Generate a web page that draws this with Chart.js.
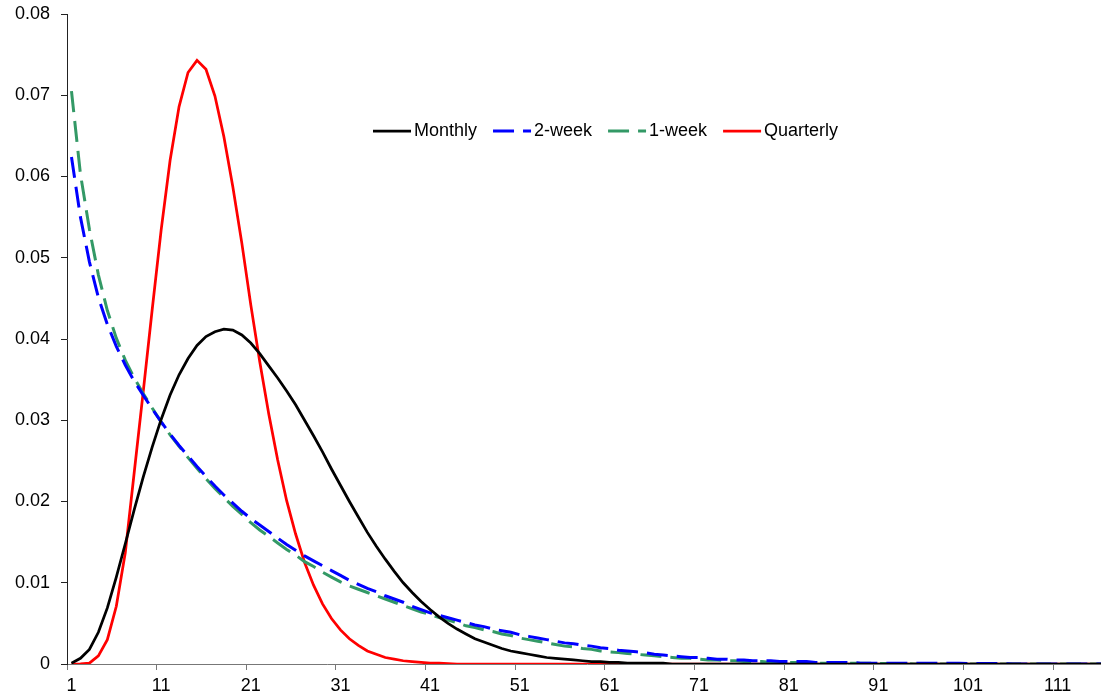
<!DOCTYPE html>
<html>
<head>
<meta charset="utf-8">
<title>Distribution by period</title>
<script src="https://cdn.jsdelivr.net/npm/chart.js@4/dist/chart.umd.min.js"></script>
<style>
	html, body { margin: 0; padding: 0; background: #fff; overflow: hidden; }
	canvas { display: block; }
</style>
</head>
<body>
<!-- the original picture cuts the plot off a few pixels past its right edge -->
<canvas id="distChart" width="1107" height="698"></canvas>
<script>
'use strict';

// Periods 1..116 along the x axis
const periods = Array.from({ length: 116 }, (_, i) => String(i + 1));

const yTicks = [0, 0.01, 0.02, 0.03, 0.04, 0.05, 0.06, 0.07, 0.08];

const monthly = [
	0.0001, 0.0007, 0.0018, 0.0039, 0.0069, 0.0107, 0.0148, 0.0190, 0.0230, 0.0267,
	0.0301, 0.0331, 0.0356, 0.0376, 0.0392, 0.0403, 0.0409, 0.0412, 0.0411, 0.0405,
	0.0395, 0.0382, 0.0367, 0.0352, 0.0336, 0.0319, 0.0300, 0.0281, 0.0261, 0.0240,
	0.0220, 0.0200, 0.0181, 0.0162, 0.0145, 0.0129, 0.0114, 0.0100, 0.0088, 0.0077,
	0.0067, 0.0058, 0.0050, 0.0043, 0.0037, 0.0031, 0.0027, 0.0023, 0.0019, 0.0016,
	0.0014, 0.0012, 0.0010, 0.0008, 0.0007, 0.0006, 0.0005, 0.0004, 0.0003, 0.0003,
	0.0002, 0.0002, 0.0001, 0.0001, 0.0001, 0.0001, 0.0001, 0, 0, 0,
	0, 0, 0, 0, 0, 0, 0, 0, 0, 0,
	0, 0, 0, 0, 0, 0, 0, 0, 0, 0,
	0, 0, 0, 0, 0, 0, 0, 0, 0, 0,
	0, 0, 0, 0, 0, 0, 0, 0, 0, 0,
	0, 0, 0, 0, 0, 0
];

const twoWeek = [
	0.0624, 0.0550, 0.0495, 0.0451, 0.0418, 0.0391, 0.0368, 0.0348, 0.0331, 0.0314,
	0.0298, 0.0283, 0.0269, 0.0256, 0.0243, 0.0231, 0.0219, 0.0208, 0.0198, 0.0188,
	0.0179, 0.0171, 0.0163, 0.0155, 0.0147, 0.0140, 0.0133, 0.0127, 0.0121, 0.0115,
	0.0109, 0.0103, 0.0098, 0.0093, 0.0089, 0.0084, 0.0080, 0.0076, 0.0071, 0.0067,
	0.0063, 0.0060, 0.0057, 0.0054, 0.0051, 0.0048, 0.0046, 0.0043, 0.0041, 0.0039,
	0.0036, 0.0034, 0.0032, 0.0030, 0.0028, 0.0026, 0.0025, 0.0023, 0.0022, 0.0020,
	0.0019, 0.0017, 0.0016, 0.0015, 0.0014, 0.0012, 0.0011, 0.0010, 0.0009, 0.0008,
	0.0008, 0.0007, 0.0006, 0.0006, 0.0005, 0.0005, 0.0004, 0.0004, 0.0004, 0.0003,
	0.0003, 0.0003, 0.0003, 0.0002, 0.0002, 0.0002, 0.0002, 0.0002, 0.0001, 0.0001,
	0.0001, 0.0001, 0.0001, 0.0001, 0.0001, 0.0001, 0.0001, 0.0001, 0.0001, 0.0001,
	0.00005, 0.00005, 0.00005, 0.00005, 0.00005, 0, 0, 0, 0, 0,
	0, 0, 0, 0, 0, 0
];

const oneWeek = [
	0.0705, 0.0603, 0.0535, 0.0479, 0.0435, 0.0401, 0.0374, 0.0352, 0.0333, 0.0315,
	0.0298, 0.0282, 0.0268, 0.0254, 0.0241, 0.0228, 0.0216, 0.0205, 0.0194, 0.0184,
	0.0174, 0.0165, 0.0157, 0.0149, 0.0141, 0.0134, 0.0126, 0.0120, 0.0113, 0.0107,
	0.0101, 0.0096, 0.0092, 0.0088, 0.0084, 0.0080, 0.0076, 0.0072, 0.0068, 0.0064,
	0.0061, 0.0057, 0.0054, 0.0051, 0.0047, 0.0045, 0.0042, 0.0040, 0.0037, 0.0035,
	0.0032, 0.0030, 0.0028, 0.0026, 0.0024, 0.0022, 0.0021, 0.0019, 0.0018, 0.0016,
	0.0015, 0.0014, 0.0013, 0.0012, 0.0011, 0.0010, 0.0009, 0.0008, 0.0007, 0.0007,
	0.0006, 0.0005, 0.0005, 0.0004, 0.0004, 0.0003, 0.0003, 0.0003, 0.0002, 0.0002,
	0.0002, 0.0002, 0.0001, 0.0001, 0.0001, 0.0001, 0.0001, 0.0001, 0.0001, 0.0001,
	0.00005, 0.00005, 0.00005, 0.00005, 0, 0, 0, 0, 0, 0,
	0, 0, 0, 0, 0, 0, 0, 0, 0, 0,
	0, 0, 0, 0, 0, 0
];

const quarterly = [
	0, 0.00003, 0.0001, 0.0010, 0.0030, 0.0071, 0.0137, 0.0236, 0.0335, 0.0436,
	0.0534, 0.0620, 0.0686, 0.0728, 0.0743, 0.0732, 0.0699, 0.0649, 0.0587, 0.0518,
	0.0442, 0.0372, 0.0308, 0.0251, 0.0201, 0.0160, 0.0125, 0.0097, 0.0074, 0.0056,
	0.0042, 0.0031, 0.0023, 0.0016, 0.0012, 0.0008, 0.0006, 0.0004, 0.0003, 0.0002,
	0.0001, 0.0001, 0.00005, 0, 0, 0, 0, 0, 0, 0,
	0, 0, 0, 0, 0, 0, 0, 0, 0, 0,
	0, 0, 0, 0, 0, 0, 0, 0, 0, 0,
	0, 0, 0, 0, 0, 0, 0, 0, 0, 0,
	0, 0, 0, 0, 0, 0, 0, 0, 0, 0,
	0, 0, 0, 0, 0, 0, 0, 0, 0, 0,
	0, 0, 0, 0, 0, 0, 0, 0, 0, 0,
	0, 0, 0, 0, 0, 0
];

const FONT = '"Liberation Sans", Arial, sans-serif';

Chart.defaults.font.family = FONT;
Chart.defaults.color = '#000';

// Legend drawn inside the plot, one row, like the original
const insideLegend = {
	id: 'insideLegend',
	afterDraw(chart) {
		const ctx = chart.ctx;
		const y = 131;
		const sample = 38;
		let x = 373;

		ctx.save();
		ctx.font = '18px ' + FONT;
		ctx.textBaseline = 'middle';
		ctx.textAlign = 'left';

		chart.data.datasets.forEach(ds => {
			ctx.strokeStyle = ds.borderColor;
			ctx.lineWidth = ds.borderWidth;
			ctx.setLineDash(ds.borderDash || []);
			ctx.beginPath();
			ctx.moveTo(x, y);
			ctx.lineTo(x + sample, y);
			ctx.stroke();

			ctx.fillStyle = '#000';
			ctx.fillText(ds.label, x + sample + 3, y);
			x += sample + 3 + ctx.measureText(ds.label).width + 16;
		});
		ctx.restore();
	}
};

const series = [
	{ label: 'Monthly', data: monthly, color: '#000000', width: 2.75, dash: [] },
	{ label: '2-week', data: twoWeek, color: '#0000ff', width: 3, dash: [21, 9] },
	{ label: '1-week', data: oneWeek, color: '#339966', width: 3, dash: [21, 9] },
	{ label: 'Quarterly', data: quarterly, color: '#ff0000', width: 2.75, dash: [] }
];

const distChart = new Chart(document.getElementById('distChart'), {
	type: 'line',
	data: {
		labels: periods,
		datasets: series.map(s => ({
			label: s.label,
			data: s.data,
			borderColor: s.color,
			backgroundColor: s.color,
			borderWidth: s.width,
			borderDash: s.dash,
			pointRadius: 0,
			tension: 0,
			fill: false
		}))
	},
	options: {
		responsive: false,
		animation: false,
		devicePixelRatio: 1,
		layout: { padding: { top: 14, right: 0, bottom: 0, left: 0 } },
		plugins: {
			legend: { display: false },
			tooltip: { enabled: false }
		},
		scales: {
			x: {
				offset: true,
				grid: {
					offset: true,
					drawOnChartArea: false,
					drawTicks: true,
					tickLength: 6,
					color: ctx => (ctx.index % 10 === 0 ? '#777' : 'rgba(0,0,0,0)')
				},
				border: { color: '#777', width: 1 },
				ticks: {
					autoSkip: false,
					maxRotation: 0,
					padding: 5,
					font: { size: 18 },
					callback: (value, index) => (index % 10 === 0 ? periods[index] : '')
				},
				afterFit: scale => {
					scale.height = 34;
					scale.paddingLeft = 0;
					scale.paddingRight = 0;
				}
			},
			y: {
				min: 0,
				max: 0.08,
				grid: {
					drawOnChartArea: false,
					drawTicks: true,
					tickLength: 6,
					color: '#222'
				},
				border: { color: '#222', width: 1 },
				afterBuildTicks: scale => { scale.ticks = yTicks.map(v => ({ value: v })); },
				ticks: {
					padding: 11,
					font: { size: 18 },
					callback: value => String(+value.toFixed(2))
				},
				afterFit: scale => {
					scale.width = 67;
					scale.paddingTop = 0;
					scale.paddingBottom = 0;
				}
			}
		}
	},
	plugins: [insideLegend]
});
</script>
</body>
</html>
